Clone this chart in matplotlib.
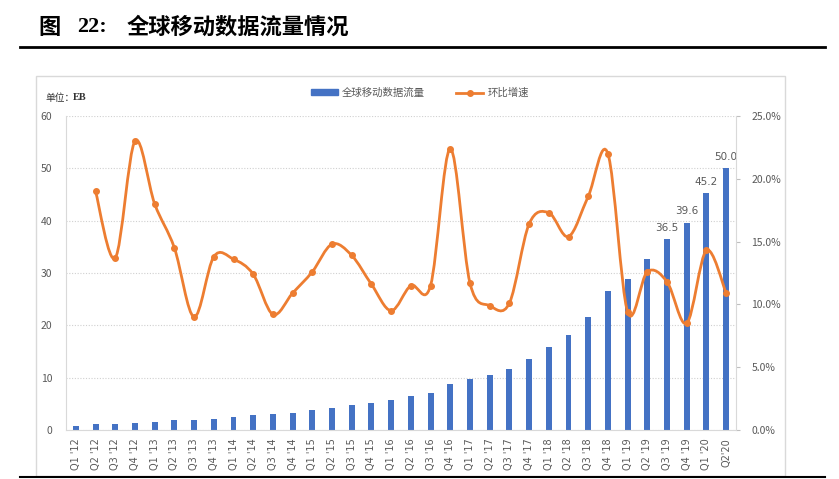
import matplotlib.pyplot as plt
import matplotlib.patches as mpatches
from matplotlib.path import Path
from matplotlib.lines import Line2D
import numpy as np

plt.rcParams['font.family'] = ['Noto Sans CJK SC', 'DejaVu Sans']

# 季度标签
quarters = ["Q1 '12", "Q2 '12", "Q3 '12", "Q4 '12",
            "Q1 '13", "Q2 '13", "Q3 '13", "Q4 '13",
            "Q1 '14", "Q2 '14", "Q3 '14", "Q4 '14",
            "Q1 '15", "Q2 '15", "Q3 '15", "Q4 '15",
            "Q1 '16", "Q2 '16", "Q3 '16", "Q4 '16",
            "Q1 '17", "Q2 '17", "Q3 '17", "Q4 '17",
            "Q1 '18", "Q2 '18", "Q3 '18", "Q4 '18",
            "Q1 '19", "Q2 '19", "Q3 '19", "Q4 '19",
            "Q1 '20", "Q2'20"]

# 全球移动数据流量 (EB)
traffic = [0.84, 1.1, 1.1, 1.28, 1.6, 1.85, 1.85, 2.05,
           2.56, 2.8, 3.0, 3.25, 3.77, 4.28, 4.7, 5.2,
           5.7, 6.45, 7.1, 8.7, 9.75, 10.6, 11.66, 13.6,
           15.8, 18.2, 21.6, 26.5, 28.9, 32.6, 36.5, 39.6,
           45.2, 50.0]

# 环比增速 (%), 从 Q2 '12 开始
growth = [19.0, 13.7, 23.0, 18.0, 14.5, 9.0, 13.8,
          13.6, 12.4, 9.2, 10.9, 12.6, 14.8, 13.9, 11.6,
          9.5, 11.5, 11.5, 22.4, 11.7, 9.9, 10.1, 16.4,
          17.3, 15.4, 18.6, 22.0, 9.4, 12.6, 11.8, 8.5,
          14.3, 10.9]

labeled = [30, 31, 32, 33]

blue = '#4472C4'
orange = '#ED7D31'
gray = '#595959'

fig = plt.figure(figsize=(8.39, 4.79), dpi=100)
W, H = 839, 479

def fx(px):
    return px / W

def fy(py):
    return 1 - py / H

# 标题
fig.text(fx(38), fy(27), '图', fontsize=16, fontweight='bold', va='center', ha='left')
fig.text(fx(77), fy(27), '22:', fontsize=16, fontweight='bold', va='center', ha='left',
         family='Liberation Serif')
fig.text(fx(127), fy(27), '全球移动数据流量情况', fontsize=16, fontweight='bold',
         va='center', ha='left')
fig.add_artist(Line2D([fx(20), fx(825)], [fy(47), fy(47)], color='black', lw=2))
fig.add_artist(Line2D([fx(20), fx(825)], [fy(477), fy(477)], color='black', lw=1.5))

# 图表外框
fig.add_artist(mpatches.Rectangle((fx(36), fy(476)), fx(785) - fx(36), fy(76) - fy(476),
                                  fill=False, edgecolor='#D9D9D9', lw=1))

ax = fig.add_axes([fx(66), fy(430), fx(736) - fx(66), fy(116) - fy(430)])
x = np.arange(len(quarters))
ax.bar(x, traffic, width=0.3, color=blue, zorder=2)
for i in labeled:
    ax.text(x[i], traffic[i] + 1.2, f'{traffic[i]:.1f}', ha='center', va='bottom',
            fontsize=7.5, color=gray, family='DejaVu Sans')

ax.set_xlim(-0.5, len(quarters) - 0.5)
ax.set_ylim(0, 60)
ax.set_yticks(range(0, 61, 10))
ax.yaxis.grid(True, linestyle=(0, (1, 1.5)), color='#D0D0D0', lw=0.8)
ax.set_axisbelow(True)
ax.set_xticks(x)
ax.set_xticklabels(quarters, rotation=90, fontsize=7, color=gray, family='DejaVu Sans')
ax.tick_params(axis='x', length=0, pad=6)
ax.tick_params(axis='y', length=0, pad=10, labelsize=7.5, labelcolor=gray)
for s in ['top', 'right']:
    ax.spines[s].set_visible(False)
ax.spines['left'].set_color('#D9D9D9')
ax.spines['bottom'].set_color('#D9D9D9')

ax2 = ax.twinx()
ax2.set_ylim(0, 25)
ax2.set_yticks(np.arange(0, 26, 5))
ax2.set_yticklabels([f'{v:.1f}%' for v in np.arange(0, 26, 5)])
ax2.tick_params(axis='y', length=3, color='#BFBFBF', pad=8, labelsize=7.5, labelcolor=gray)
for s in ['top', 'left', 'bottom']:
    ax2.spines[s].set_visible(False)
ax2.spines['right'].set_color('#D9D9D9')

# 平滑曲线 (Excel 式三次贝塞尔)
gx = x[1:]
pts = np.column_stack([gx, growth])
verts = [pts[0]]
codes = [Path.MOVETO]
n = len(pts)
for i in range(n - 1):
    p0 = pts[i - 1] if i > 0 else pts[i]
    p1 = pts[i]
    p2 = pts[i + 1]
    p3 = pts[i + 2] if i + 2 < n else pts[i + 1]
    c1 = p1 + (p2 - p0) / 6
    c2 = p2 - (p3 - p1) / 6
    verts += [c1, c2, p2]
    codes += [Path.CURVE4] * 3
ax2.add_patch(mpatches.PathPatch(Path(verts, codes), fill=False, edgecolor=orange, lw=2,
                                 zorder=3))
ax2.plot(gx, growth, linestyle='none', marker='o', ms=4, color=orange, zorder=4)

# 图例
handles = [mpatches.Patch(color=blue),
           Line2D([], [], color=orange, lw=2, marker='o', ms=4)]
fig.legend(handles, ['全球移动数据流量', '环比增速'], loc='center',
           bbox_to_anchor=(fx(420), fy(93)), ncol=2, frameon=False, fontsize=7.5,
           labelcolor=gray, handlelength=2.6, handleheight=0.5, columnspacing=3,
           handletextpad=0.4)

fig.text(fx(45), fy(98), '单位：', fontsize=7, color='#333333', va='center', ha='left')
fig.text(fx(73), fy(98), 'EB', fontsize=7.5, color='#333333', fontweight='bold',
         va='center', ha='left', family='Liberation Serif')

fig.savefig('out.png', dpi=100)
